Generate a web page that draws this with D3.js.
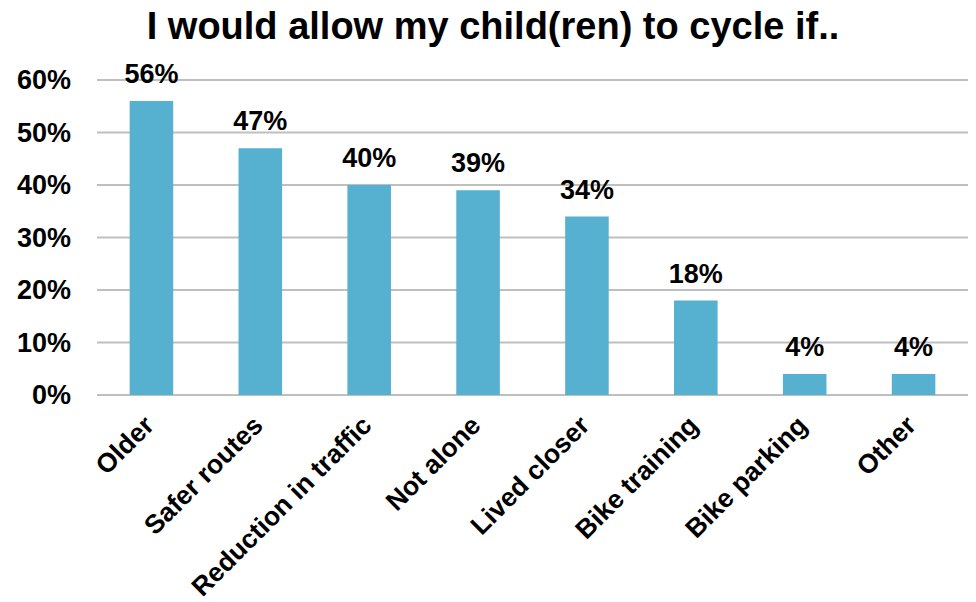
<!DOCTYPE html>
<html>
<head>
<meta charset="utf-8">
<script src="https://cdn.jsdelivr.net/npm/d3@7"></script>
<style>
  body { margin: 0; background: #fff; }
  text { font-family: "Liberation Sans", Arial, sans-serif; font-weight: bold; fill: #000; }
</style>
</head>
<body>
<script>
var categories = ["Older", "Safer routes", "Reduction in traffic", "Not alone",
  "Lived closer", "Bike training", "Bike parking", "Other"];
var values = [56, 47, 40, 39, 34, 18, 4, 4];
var yTicks = [0, 10, 20, 30, 40, 50, 60];

var width = 976, height = 602;
var plotLeft = 97, plotRight = 968, plotTop = 80, plotBottom = 395;

var svg = d3.select("body").append("svg")
  .attr("width", width)
  .attr("height", height);

var x = d3.scaleBand()
  .domain(categories)
  .range([plotLeft, plotRight])
  .paddingInner(0.6)
  .paddingOuter(0.3);

var y = d3.scaleLinear()
  .domain([0, 60])
  .range([plotBottom, plotTop]);

// gridlines
svg.selectAll("line.grid")
  .data(yTicks)
  .enter().append("line")
  .attr("class", "grid")
  .attr("x1", plotLeft)
  .attr("x2", plotRight)
  .attr("y1", function (d) { return y(d); })
  .attr("y2", function (d) { return y(d); })
  .attr("stroke", "#bfbfbf")
  .attr("stroke-width", 2);

// y tick labels
svg.selectAll("text.ytick")
  .data(yTicks)
  .enter().append("text")
  .attr("class", "ytick")
  .attr("x", 71)
  .attr("y", function (d) { return y(d) + 9; })
  .attr("text-anchor", "end")
  .style("font-size", "27px")
  .text(function (d) { return d + "%"; });

// bars
svg.selectAll("rect")
  .data(values)
  .enter().append("rect")
  .attr("x", function (d, i) { return x(categories[i]); })
  .attr("width", x.bandwidth())
  .attr("y", function (d) { return y(d); })
  .attr("height", function (d) { return y(0) - y(d); })
  .attr("fill", "#56b0cf");

// value labels
svg.selectAll("text.val")
  .data(values)
  .enter().append("text")
  .attr("class", "val")
  .attr("x", function (d, i) { return x(categories[i]) + x.bandwidth() / 2; })
  .attr("y", function (d) { return y(d) - 18; })
  .attr("text-anchor", "middle")
  .style("font-size", "27px")
  .text(function (d) { return d + "%"; });

// category labels, rotated
svg.selectAll("text.cat")
  .data(categories)
  .enter().append("text")
  .attr("class", "cat")
  .attr("text-anchor", "end")
  .attr("transform", function (d) {
    return "translate(" + (x(d) + x.bandwidth() / 2 + 4) + "," + (plotBottom + 32) + ") rotate(-45)";
  })
  .style("font-size", "26.5px")
  .text(function (d) { return d; });

// title
svg.append("text")
  .attr("x", 493)
  .attr("y", 39)
  .attr("text-anchor", "middle")
  .style("font-size", "38px")
  .text("I would allow my child(ren) to cycle if..");
</script>
</body>
</html>
